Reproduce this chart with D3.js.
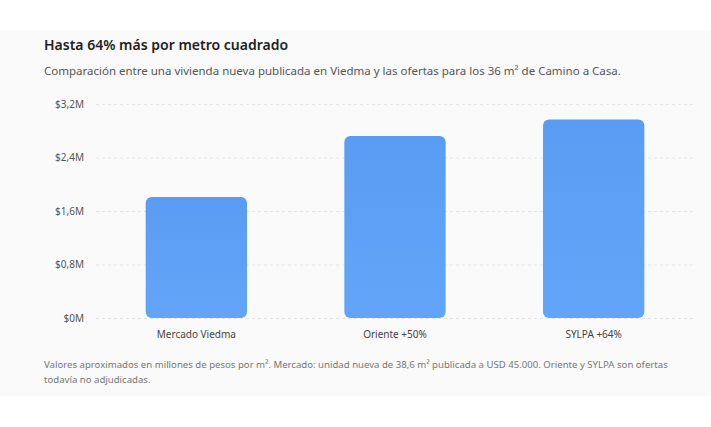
<!DOCTYPE html><html><head><meta charset="utf-8"><script src="https://cdn.jsdelivr.net/npm/d3@7"></script>
<style>body{margin:0;background:#fff}svg text{font-family:"Noto Sans",sans-serif}</style></head><body><svg id="c" width="711" height="427"></svg>
<script>
const categories=["Mercado Viedma","Oriente +50%","SYLPA +64%"];
const values=[1.81,2.72,2.97];
const ticks=[0,0.8,1.6,2.4,3.2];
const tickLabels=["$0M","$0,8M","$1,6M","$2,4M","$3,2M"];
const svg=d3.select("#c");
svg.append("rect").attr("x",0).attr("y",30).attr("width",711).attr("height",366).attr("fill","#fafafa");
svg.append("text").attr("x",44).attr("y",50).attr("font-size",14).attr("font-weight",600).attr("fill","#222").text("Hasta 64% más por metro cuadrado");
svg.append("text").attr("x",44).attr("y",75).attr("font-size",11.5).attr("fill","#555").text("Comparación entre una vivienda nueva publicada en Viedma y las ofertas para los 36 m² de Camino a Casa.");
const y=d3.scaleLinear().domain([0,3.2]).range([318,104]);
const x=d3.scaleBand().domain(categories).range([96,694]).paddingInner(0.49).paddingOuter(0.25);
const defs=svg.append("defs");const g=defs.append("linearGradient").attr("id","gr").attr("x1",0).attr("x2",0).attr("y1",0).attr("y2",1);
g.append("stop").attr("offset",0).attr("stop-color","#5a9cf3");g.append("stop").attr("offset",1).attr("stop-color","#62a5f8");
const ya=svg.append("g").attr("transform","translate(96,0)").call(d3.axisLeft(y).tickValues(ticks).tickFormat((d,i)=>tickLabels[i]).tickSize(-598).tickPadding(12));
ya.select(".domain").remove();
ya.selectAll("line").attr("stroke","#e4e4e4").attr("stroke-dasharray","3,3");
ya.selectAll("text").attr("font-size",10).attr("fill","#555").attr("font-family","Noto Sans, sans-serif");
svg.selectAll(".bar").data(values).join("rect").attr("x",(d,i)=>x(categories[i])).attr("y",d=>y(d)).attr("width",x.bandwidth()).attr("height",d=>318-y(d)).attr("rx",6).attr("fill","url(#gr)");
const xa=svg.append("g").attr("transform","translate(0,318)").call(d3.axisBottom(x).tickSize(0).tickPadding(13));
xa.select(".domain").remove();
xa.selectAll("text").attr("font-size",10).attr("fill","#444").attr("font-family","Noto Sans, sans-serif");
const n=svg.append("text").attr("font-size",9.6).attr("fill","#777");
n.append("tspan").attr("x",44).attr("y",368).text("Valores aproximados en millones de pesos por m². Mercado: unidad nueva de 38,6 m² publicada a USD 45.000. Oriente y SYLPA son ofertas");
n.append("tspan").attr("x",44).attr("y",383).text("todavía no adjudicadas.");
</script></body></html>
